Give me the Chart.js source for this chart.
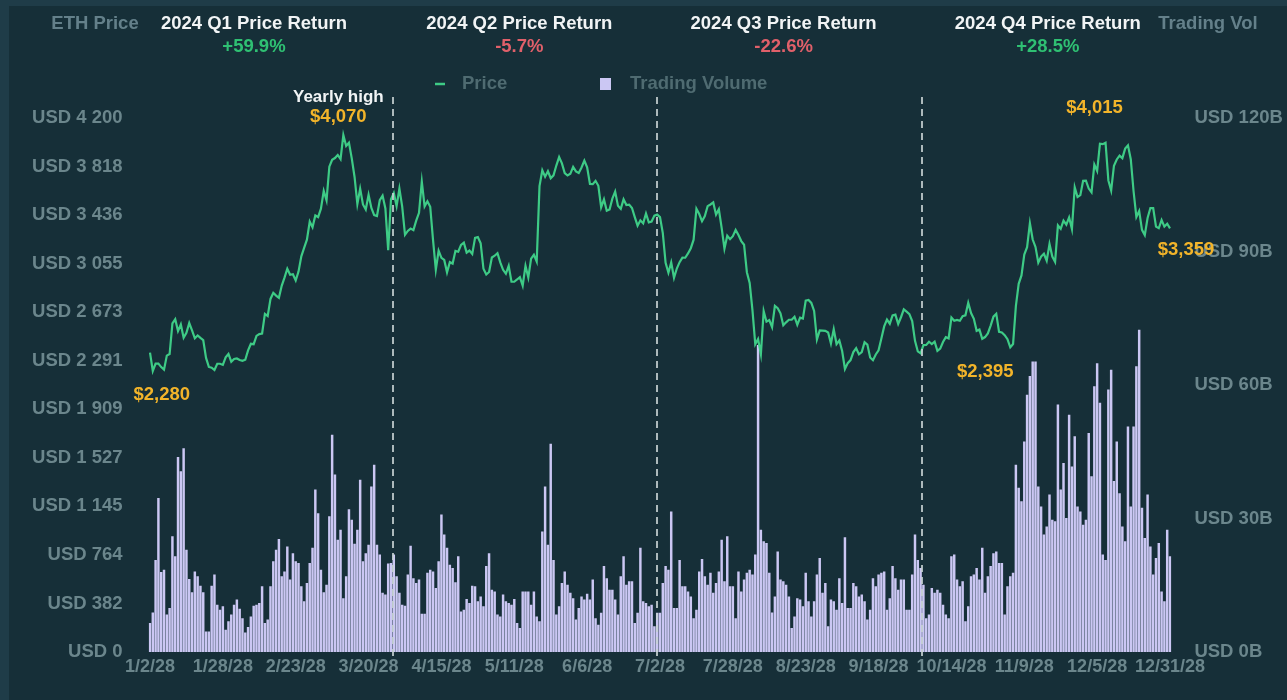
<!DOCTYPE html>
<html><head><meta charset="utf-8">
<script src="https://cdn.jsdelivr.net/npm/chart.js@4.4.1/dist/chart.umd.min.js"></script>
<style>
html,body{margin:0;padding:0;background:#1f3c48;overflow:hidden;}
canvas{display:block;}
</style></head><body>
<canvas id="c" width="1287" height="700"></canvas>
<script>
// ---------- DATA (ETH daily price, USD) ----------
const priceJan=[2355,2210,2268,2269,2241,2221,2331,2344,2585,2617,2524,2576,2472,2511,2587,2529,2467,2489,2470,2453,2313,2242,2236,2218,2267,2267,2258,2317,2344,2283];
const priceFeb=[2305,2309,2297,2290,2299,2372,2424,2421,2486,2500,2505,2659,2643,2777,2825,2803,2786,2880,2944,3014,2967,2971,2922,2992,3112,3178,3243,3385,3340];
const priceMar=[3433,3421,3487,3627,3553,3817,3871,3885,3909,3876,4066,3980,4006,3882,3736,3523,3644,3520,3480,3596,3492,3436,3429,3554,3590,3488,3160,3561,3610,3507,3645];
const priceApr=[3503,3281,3312,3330,3318,3393,3454,3700,3505,3545,3502,3242,3008,3156,3100,3084,2986,3066,3055,3155,3148,3202,3220,3141,3157,3131,3257,3263,3215,3014];
const priceMay=[2969,2989,3103,3117,3137,3064,3006,2975,3037,2912,2912,2930,2949,2882,3037,2945,3094,3124,3072,3664,3789,3738,3781,3726,3749,3826,3893,3843,3767,3748,3761];
const priceJun=[3815,3780,3767,3811,3865,3812,3681,3680,3706,3667,3498,3560,3470,3480,3566,3621,3509,3485,3560,3515,3519,3492,3420,3353,3395,3371,3449,3379,3386,3432];
const priceJul=[3440,3420,3295,3061,2983,3064,2943,3016,3066,3102,3101,3135,3176,3243,3486,3445,3388,3428,3507,3520,3536,3440,3482,3336,3172,3274,3247,3270,3320,3279,3232];
const priceAug=[3203,2987,2903,2687,2420,2461,2341,2681,2598,2610,2555,2723,2704,2664,2570,2593,2613,2614,2637,2574,2630,2623,2764,2769,2746,2682,2458,2529,2528,2526,2513];
const priceSep=[2426,2538,2422,2450,2367,2226,2272,2296,2359,2389,2341,2359,2436,2418,2316,2295,2340,2373,2466,2561,2614,2582,2647,2653,2580,2633,2695,2677,2658,2603];
const priceOct=[2447,2364,2349,2414,2415,2440,2422,2441,2369,2386,2438,2476,2467,2630,2605,2612,2605,2642,2648,2746,2666,2621,2526,2536,2464,2477,2506,2567,2638,2660,2518];
const priceNov=[2513,2492,2460,2396,2422,2721,2896,2962,3126,3184,3372,3244,3186,3062,3110,3132,3077,3209,3110,3068,3355,3328,3392,3361,3418,3327,3655,3578,3593,3706];
const priceDec=[3708,3645,3616,3834,3784,3998,3994,4005,3709,3630,3825,3874,3904,3884,3959,3985,3876,3624,3422,3469,3320,3279,3413,3492,3491,3346,3333,3398,3346,3368,3332];

// ---------- DATA (daily trading volume, USD billions) ----------
const volJan=[6.5,8.9,20.7,34.6,18,18.5,8.4,9.9,26,21.5,43.8,40.6,45.8,23,16.4,13.4,18.1,17,14.9,13.4,4.6,4.6,14.9,17.4,10.6,9.5,10.3,5,6.9,8.4];
const volFeb=[10.6,11.8,9.7,7.6,4.4,5.6,8,10.4,10.6,11,14.8,6.5,7.3,14.8,20.4,23,25.4,17,18.1,23.7,16.3,22.2,20.4,20,14.8,11.4,15.5,20,23.4];
const volMar=[36.5,31.2,18.5,13.4,15.1,30.5,48.8,39.9,25.2,27.5,12.1,17,32.1,29.7,24.3,27.5,38.7,20.4,22.2,24.1,37.2,42.1,24.1,21.9,13.3,12.9,19.9,20,21.9,17,13.3];
const volApr=[10.6,10.4,17.4,23.9,16.6,15.5,16.3,8.6,8.6,17.8,18.5,18.1,14.4,20.4,30.9,26.4,23.4,19.6,18.9,15.7,21.5,9.1,9.5,11.9,11,14.9,14.8,11.4,12.5,10.3];
const volMay=[19.3,22.2,14,13.6,8.4,8,12.9,11.4,11,10.6,11.9,6.5,5.4,13.6,13.6,13.6,10.6,13.6,8,6.9,27.1,37.2,24.1,46.8,20.7,8.4,10.3,15.5,18.1,15.1,13.3];
const volJun=[12.1,7.3,9.9,12.5,11.8,13.1,11.8,16.3,7.6,6.1,8.8,19.3,16.6,14,14,11.8,8.4,17,21.5,15.1,15.9,15.9,6.5,8.8,23.4,11.4,11,10.3,10.6,5.8];
const volJul=[8.8,8.8,15.5,19.3,18.5,31.6,9.9,9.9,20.7,14.8,14.8,13.6,12.5,7.6,9.5,18.1,20.9,17,15.1,17.8,13.3,15.5,18.1,25.2,15.9,26,14.8,14.8,7.6,18.1,13.6];
const volAug=[16.3,17.8,18.5,17.4,21.9,69,27.5,24.9,24.5,17.8,8.9,12.5,22.6,16.3,15.9,15.1,12.5,5.4,8,12.1,11.8,10.3,17.8,11.4,8,11.4,17.4,21.1,13.3,15.5,5.8];
const volSep=[11.8,11.4,9.5,16.6,11,25.8,9.9,9.9,15.5,14.8,12.5,12.9,11.4,7.3,9.5,16.6,14.8,17.4,17.8,18.1,9.5,12.1,19.3,16.6,14,16.3,16.3,9.5,9.5,17.4];
const volOct=[26.4,20.7,18.9,15.1,7.6,8.4,14.4,13.3,14,13.3,10.6,8.4,7.6,21.5,21.9,16.3,14.8,15.9,6.9,10.3,17,17.4,18.9,16.3,23.4,13.3,17,19.3,22.2,22.6,20];
const volNov=[20,8.4,14.8,17,17.8,42.1,36.9,33.9,47.3,57.8,62,65.3,65.3,37.2,32.7,26.4,28.2,35.4,29.7,29.4,55.6,36.5,42.5,30.1,53.3,41.7,48.5,32.7,31.6,28.6];
const volDec=[29.7,49.2,39.5,59.7,64.9,56,21.9,20.7,59,63.4,38.4,47.3,35.7,28.2,24.9,50.7,32.7,50.7,64.2,72.4,32.4,25.6,35.4,23.7,17.4,21.1,24.5,13.6,11.4,27.5,21.5];

// ---------- LABELS ----------
const xTickLabels=['1/2/28','1/28/28','2/23/28','3/20/28','4/15/28','5/11/28','6/6/28','7/2/28','7/28/28','8/23/28','9/18/28','10/14/28','11/9/28','12/5/28','12/31/28'];
const quarterTitles=['2024 Q1 Price Return','2024 Q2 Price Return','2024 Q3 Price Return','2024 Q4 Price Return'];
const quarterReturns=['+59.9%','-5.7%','-22.6%','+28.5%'];
const priceCallouts=[
  {date:'1/3/28', text:'$2,280'},
  {date:'3/11/28', text:'$4,070', note:'Yearly high'},
  {date:'11/4/28', text:'$2,395'},
  {date:'12/8/28', text:'$4,015'},
  {date:'12/31/28', text:'$3,359'}
];
const priceAxisMax=4200, priceTickCount=12;
const volAxisMax=120, volTickStep=30;

// ---------- build ----------
const price=[].concat(priceJan,priceFeb,priceMar,priceApr,priceMay,priceJun,priceJul,priceAug,priceSep,priceOct,priceNov,priceDec);
const volume=[].concat(volJan,volFeb,volMar,volApr,volMay,volJun,volJul,volAug,volSep,volOct,volNov,volDec);
const labels=[];
{const d=new Date(2028,0,2);for(let i=0;i<price.length;i++){labels.push((d.getMonth()+1)+'/'+d.getDate()+'/28');d.setDate(d.getDate()+1);}}
const xTickIdx=xTickLabels.map(l=>labels.indexOf(l));

const FONT='"Liberation Sans", Arial, Helvetica, sans-serif';
const C={panel:'#162f38',frame:'#1f3c48',axis:'#6b868c',legend:'#4f6b71',head:'#64808a',white:'#f1f4f5',
  green:'#2fc073',red:'#e0606a',line:'#3ecb86',bar:'#cbc7f3',gold:'#f2b42a',dash:'rgba(200,210,212,0.85)'};
const spaced=v=>Math.round(v).toString().replace(/\B(?=(\d{3})+(?!\d))/g,' ');

const deco={
  id:'deco',
  beforeDraw(chart){
    const ctx=chart.ctx;ctx.save();
    ctx.fillStyle=C.frame;ctx.fillRect(0,0,chart.width,chart.height);
    ctx.fillStyle=C.panel;ctx.fillRect(9,6,chart.width-9,chart.height-6);
    ctx.restore();
  },
  afterDraw(chart){
    const ctx=chart.ctx, xs=chart.scales.x, ys=chart.scales.y;
    ctx.save();
    // quarter dividers (fractional category positions)
    const divs=[86.8,181,275.4];
    ctx.strokeStyle=C.dash;ctx.lineWidth=2;ctx.setLineDash([7,5]);
    divs.forEach(v=>{const x=Math.round(xs.getPixelForValue(v));ctx.beginPath();ctx.moveTo(x,97);ctx.lineTo(x,660);ctx.stroke();});
    ctx.setLineDash([]);
    // header
    ctx.textBaseline='middle';ctx.textAlign='center';
    ctx.font='bold 18.5px '+FONT;
    ctx.fillStyle=C.head;ctx.fillText('ETH Price',95,24);ctx.fillText('Trading Vol',1208,24);
    const qc=[37.1,131.8,226.1,320.4];
    quarterTitles.forEach((t,i)=>{
      const x=xs.getPixelForValue(qc[i]);
      ctx.fillStyle=C.white;ctx.fillText(t,x,24);
      ctx.fillStyle=quarterReturns[i].startsWith('-')?C.red:C.green;ctx.fillText(quarterReturns[i],x,47);
    });
    // legend
    ctx.textAlign='left';
    ctx.strokeStyle=C.line;ctx.lineWidth=2.5;ctx.beginPath();ctx.moveTo(435,84);ctx.lineTo(445,84);ctx.stroke();
    ctx.fillStyle=C.legend;ctx.fillText(chart.data.datasets[0].label,462,84);
    ctx.fillStyle=C.bar;ctx.fillRect(600,78,11,12);
    ctx.fillStyle=C.legend;ctx.fillText(chart.data.datasets[1].label,630,84);
    // callouts
    const off={'$2,280':[9,24],'$4,070':[-5,-18],'$2,395':[-25,25],'$4,015':[-11,-35],'$3,359':[16,22]};
    ctx.textAlign='center';
    priceCallouts.forEach(c=>{
      const i=labels.indexOf(c.date);const px=xs.getPixelForValue(i), py=ys.getPixelForValue(price[i]);
      const o=off[c.text];
      ctx.font='bold 18.5px '+FONT;ctx.fillStyle=C.gold;ctx.fillText(c.text,px+o[0],py+o[1]);
      if(c.note){ctx.font='bold 17px '+FONT;ctx.fillStyle=C.white;ctx.fillText(c.note,px+o[0],py+o[1]-20);}
    });
    ctx.restore();
  }
};

new Chart(document.getElementById('c'),{
  data:{labels,datasets:[
    {type:'line',label:'Price',data:price,yAxisID:'y',borderColor:C.line,borderWidth:2.2,pointRadius:0,tension:0,order:0},
    {type:'bar',label:'Trading Volume',data:volume,yAxisID:'y1',backgroundColor:C.bar,barPercentage:0.88,categoryPercentage:1,order:1}
  ]},
  options:{
    responsive:false,animation:false,devicePixelRatio:1,
    layout:{padding:{top:118,left:0,right:0,bottom:0}},
    plugins:{legend:{display:false},tooltip:{enabled:false}},
    scales:{
      x:{type:'category',offset:true,grid:{display:false,drawTicks:false},border:{display:false},
        afterBuildTicks:s=>{s.ticks=xTickIdx.map(v=>({value:v}));},
        afterFit:s=>{s.height=48;},
        ticks:{autoSkip:false,maxRotation:0,padding:4,color:C.axis,font:{family:FONT,size:18,weight:'bold'},
          callback:v=>labels[v]}},
      y:{position:'left',min:0,max:priceAxisMax,grid:{display:false,drawTicks:false},border:{display:false},
        afterBuildTicks:s=>{s.ticks=Array.from({length:priceTickCount},(_,i)=>({value:priceAxisMax*i/(priceTickCount-1)}));},
        afterFit:s=>{s.width=148.6;},
        ticks:{padding:26,color:C.axis,font:{family:FONT,size:18.5,weight:'bold'},callback:v=>'USD '+spaced(v)}},
      y1:{position:'right',min:0,max:volAxisMax,grid:{display:false,drawTicks:false},border:{display:false},
        afterBuildTicks:s=>{const t=[];for(let v=0;v<=volAxisMax;v+=volTickStep)t.push({value:v});s.ticks=t;},
        afterFit:s=>{s.width=1287-1171.4;},
        ticks:{padding:23,color:C.axis,font:{family:FONT,size:18.5,weight:'bold'},callback:v=>'USD '+v+'B'}}
    }
  },
  plugins:[deco]
});
</script></body></html>
